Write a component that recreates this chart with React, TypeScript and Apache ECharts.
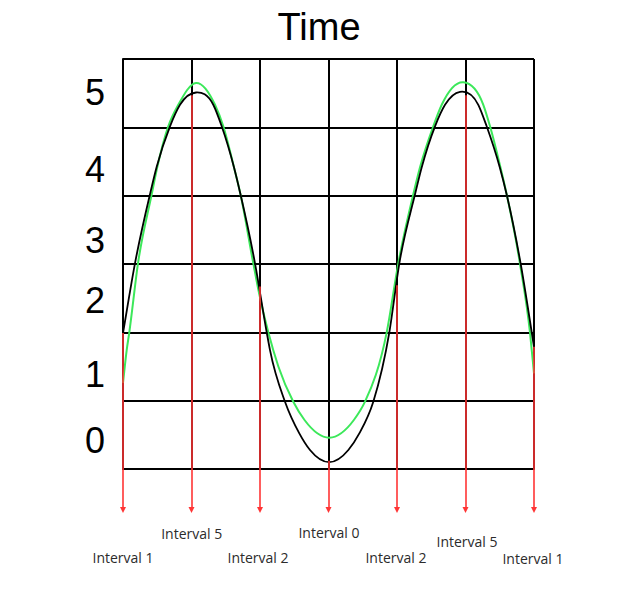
import React, { useEffect, useRef } from "react";
import * as echarts from "echarts";

// Black curve as [x, y] pairs (x: grid columns, y: grid rows)
const blackCurve: number[][] = [
  [0, 1.99], [0.175, 3.01], [0.394, 4.02], [0.49, 4.415], [0.686, 5.015], [0.832, 5.33],
  [1.066, 5.51], [1.318, 5.33], [1.441, 5.015], [1.62, 4.415], [1.715, 4.02], [1.927, 3.01],
  [2.098, 2.0], [2.146, 1.74], [2.365, 0.985], [2.574, 0.522], [2.73, 0.278], [3.012, 0.1],
  [3.29, 0.278], [3.45, 0.522], [3.654, 0.985], [3.888, 2.0], [4.034, 3.01], [4.263, 4.02],
  [4.361, 4.415], [4.555, 5.015], [4.701, 5.33], [4.92, 5.52], [5.187, 5.33], [5.309, 5.015],
  [5.5, 4.415], [5.6, 4.02], [5.806, 3.0], [6.0, 1.79],
];

// Green curve
const greenCurve: number[][] = [
  [0, 1.26], [0.054, 1.74], [0.092, 2.0], [0.219, 3.01], [0.419, 4.02], [0.5, 4.415],
  [0.661, 5.015], [0.807, 5.33], [1.066, 5.65], [1.343, 5.33], [1.464, 5.015], [1.62, 4.415],
  [1.715, 4.02], [1.902, 3.01], [1.985, 2.58], [2.121, 2.0], [2.268, 1.5], [2.486, 0.985],
  [2.65, 0.717], [3.012, 0.458], [3.37, 0.717], [3.533, 0.985], [3.85, 2.0], [4.019, 3.01],
  [4.238, 4.02], [4.336, 4.415], [4.53, 5.015], [4.653, 5.33], [4.968, 5.66], [5.26, 5.33],
  [5.358, 5.015], [5.51, 4.415], [5.601, 4.02], [5.796, 3.0], [5.942, 1.99], [6.0, 1.4],
];

// Red arrows: at each column, from the black curve down below the grid
const arrowX: number[] = [0, 1, 2, 3, 4, 5, 6];
const arrowTop: number[] = [1.99, 5.47, 2.67, 0.12, 2.69, 5.47, 1.79];
const arrowBottom = -0.6;

// Interval labels under the arrows
const intervalLabels: string[] = [
  "Interval 1", "Interval 5", "Interval 2", "Interval 0", "Interval 2", "Interval 5", "Interval 1",
];
const intervalLabelX: number[] = [0, 1.003, 1.971, 3.007, 3.985, 5.022, 5.985];
const intervalLabelY: number[] = [-1.288, -0.937, -1.288, -0.922, -1.288, -1.054, -1.317];

// Y tick labels (placed irregularly in the picture)
const yTickLabels: string[] = ["0", "1", "2", "3", "4", "5"];
const yTickPositions: number[] = [0.41, 1.376, 2.473, 3.337, 4.376, 5.517];
const yTickLabelX = -0.409;

const titleText = "Time";

// Smooth curve through the read points, positioned by the chart's own axes (api.coord)
function curveSeries(pts: number[][], color: string, width: number, z: number) {
  return {
    type: "custom",
    coordinateSystem: "cartesian2d",
    clip: false,
    silent: true,
    z,
    data: [pts[0]],
    renderItem: (_params: any, api: any) => {
      const P: number[][] = pts.map((p) => api.coord(p));
      const n = P.length;
      const m = P.map((p, i) => {
        if (i === 0) return (P[1][1] - P[0][1]) / (P[1][0] - P[0][0]);
        if (i === n - 1) return (P[n - 1][1] - P[n - 2][1]) / (P[n - 1][0] - P[n - 2][0]);
        const h0 = p[0] - P[i - 1][0];
        const h1 = P[i + 1][0] - p[0];
        const d0 = (p[1] - P[i - 1][1]) / h0;
        const d1 = (P[i + 1][1] - p[1]) / h1;
        return (d0 * h1 + d1 * h0) / (h0 + h1);
      });
      let d = `M${P[0][0]},${P[0][1]}`;
      for (let i = 0; i < n - 1; i++) {
        const h = P[i + 1][0] - P[i][0];
        d += ` C${P[i][0] + h / 3},${P[i][1] + (m[i] * h) / 3} ${P[i + 1][0] - h / 3},${
          P[i + 1][1] - (m[i + 1] * h) / 3
        } ${P[i + 1][0]},${P[i + 1][1]}`;
      }
      return {
        type: "path",
        shape: { pathData: d },
        style: { fill: "none", stroke: color, lineWidth: width },
      };
    },
  };
}

export default function App() {
  const ref = useRef<HTMLDivElement>(null);

  useEffect(() => {
    const chart = echarts.init(ref.current!, null, { renderer: "svg" });

    const axisCommon = {
      type: "value",
      min: 0,
      max: 6,
      interval: 1,
      axisLabel: { show: false },
      axisTick: { show: false },
      axisLine: { show: true, lineStyle: { color: "#000", width: 2 } },
      splitLine: { show: true, lineStyle: { color: "#000", width: 2 } },
    };

    const labelSeries = (names: string[], xs: number[], ys: number[], font: string, size: number, color: string) => ({
      type: "scatter",
      clip: false,
      symbolSize: 0,
      silent: true,
      itemStyle: { opacity: 1, color: "transparent" },
      data: names.map((t, i) => ({ name: t, value: [xs[i], ys[i]] })),
      label: {
        show: true,
        position: "inside",
        formatter: (p: any) => p.name,
        fontFamily: font,
        fontSize: size,
        color,
        textBorderWidth: 0,
        opacity: 1,
      },
      z: 6,
    });

    chart.setOption({
      animation: false,
      backgroundColor: "#fff",
      grid: { left: 123, top: 59, width: 411, height: 410 },
      xAxis: { ...axisCommon },
      yAxis: { ...axisCommon },
      graphic: [
        {
          type: "text",
          x: 319,
          y: 27,
          style: {
            text: titleText,
            fontSize: 38,
            fontFamily: "Liberation Sans",
            fill: "#000",
            align: "center",
            verticalAlign: "middle",
          },
        },
      ],
      series: [
        curveSeries(greenCurve, "#3ce85a", 2, 3),
        curveSeries(blackCurve, "#000", 1.8, 4),
        {
          type: "lines",
          coordinateSystem: "cartesian2d",
          clip: false,
          symbol: ["none", "triangle"],
          symbolSize: [8, 6],
          lineStyle: { color: "#ff3535", width: 1.6, opacity: 1 },
          itemStyle: { color: "#ff3535" },
          data: arrowX.map((x, i) => ({ coords: [[x, arrowTop[i]], [x, arrowBottom]] })),
          z: 5,
        },
        labelSeries(intervalLabels, intervalLabelX, intervalLabelY, "Open Sans", 14, "#2b2b2b"),
        labelSeries(yTickLabels, yTickLabels.map(() => yTickLabelX), yTickPositions, "Liberation Sans", 36, "#000"),
      ],
    });

    return () => chart.dispose();
  }, []);

  return (
    <div
      ref={ref}
      style={{ position: "fixed", left: 0, top: 0, width: 622, height: 601, background: "#fff" }}
    />
  );
}
